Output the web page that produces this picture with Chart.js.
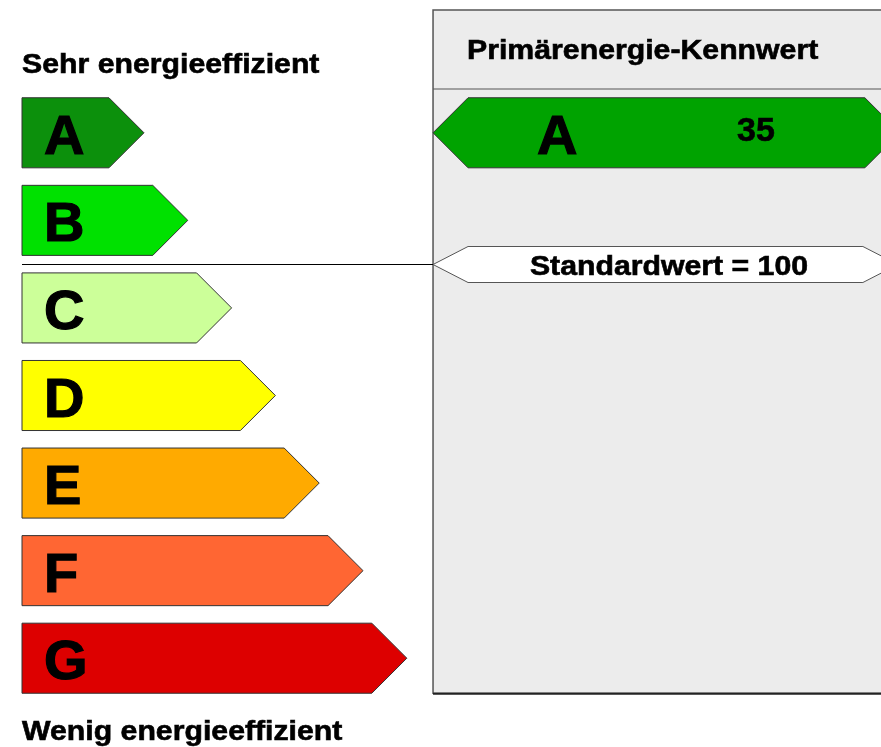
<!DOCTYPE html>
<html>
<head>
<meta charset="utf-8">
<script src="https://cdn.jsdelivr.net/npm/chart.js@4"></script>
<style>
  html, body { margin: 0; padding: 0; background: #fff; }
  #label { display: block; }
</style>
</head>
<body>
<canvas id="label" width="881" height="747"></canvas>
<script>
// Effizienzklassen und Pfeillaengen (relative Einheiten, x-Achse 0..100)
const klassen = ["A", "B", "C", "D", "E", "F", "G"];
const klassenLaenge = [14.2, 19.3, 24.4, 29.5, 34.6, 39.7, 44.8];
const klassenFarben = ["#0c900c", "#00e100", "#ccff99", "#ffff00", "#ffaa00", "#ff6633", "#dd0000"];

// Kennwert des Gebaeudes
const kennwertKlasse = "A";
const kennwert = 35;
const kennwertBereich = [47.85, 102.2];
const kennwertFarbe = "#00a300";

// Standardwert, liegt auf der Grenze zwischen B und C
const standardWert = 100;
const standardPos = 1.5;

const titelOben = "Sehr energieeffizient";
const titelUnten = "Wenig energieeffizient";
const panelTitel = "Primärenergie-Kennwert";

const FONT = "'Liberation Sans', Arial, sans-serif";
const STRETCH = 1.12;

function text(ctx, str, x, y, size, align, sx) {
  ctx.save();
  ctx.font = "bold " + size + "px " + FONT;
  ctx.fillStyle = "#000";
  ctx.strokeStyle = "#000";
  ctx.lineWidth = size > 40 ? 1.2 : 0.6;
  ctx.textBaseline = "alphabetic";
  ctx.textAlign = align || "left";
  ctx.translate(x, y);
  ctx.scale(sx || 1, 1);
  ctx.fillText(str, 0, 0);
  ctx.strokeText(str, 0, 0);
  ctx.restore();
}

// Pfeil nach rechts (Klassen) oder Sechseck (Kennwert / Standardwert)
function arrow(ctx, left, right, top, bottom, both, tip) {
  const mid = (top + bottom) / 2;
  const t = tip || (bottom - top) / 2;
  ctx.beginPath();
  if (both) {
    ctx.moveTo(left, mid);
    ctx.lineTo(left + t, top);
  } else {
    ctx.moveTo(left, top);
  }
  ctx.lineTo(right - t, top);
  ctx.lineTo(right, mid);
  ctx.lineTo(right - t, bottom);
  if (both) {
    ctx.lineTo(left + t, bottom);
  } else {
    ctx.lineTo(left, bottom);
  }
  ctx.closePath();
}

const labelPlugin = {
  id: "energieLabel",
  beforeDatasetsDraw(chart) {
    const { ctx, chartArea, scales } = chart;
    const px = scales.x.getPixelForValue(kennwertBereich[0]);
    const pr = scales.x.getPixelForValue(kennwertBereich[1]);
    const g = chart.getDatasetMeta(0).data[6].getProps(["y", "height"], true);
    const bottom = g.y + g.height / 2;
    const top = chartArea.top - 79;
    ctx.save();
    // Panel rechts
    ctx.fillStyle = "#ececec";
    ctx.fillRect(px, top, chart.width - px + 5, bottom - top);
    ctx.strokeStyle = "#555";
    ctx.lineWidth = 1.5;
    ctx.strokeRect(px, top, chart.width - px + 5, bottom - top);
    ctx.beginPath();
    ctx.moveTo(px, bottom + 0.5);
    ctx.lineTo(chart.width, bottom + 0.5);
    ctx.strokeStyle = "#222";
    ctx.lineWidth = 2;
    ctx.stroke();
    ctx.beginPath();
    ctx.moveTo(px, chartArea.top);
    ctx.lineTo(chart.width, chartArea.top);
    ctx.strokeStyle = "#555";
    ctx.lineWidth = 1;
    ctx.stroke();
    // Linie zum Standardwert
    const sy = Math.round(scales.y.getPixelForValue(standardPos)) + 0.5;
    ctx.beginPath();
    ctx.moveTo(chartArea.left, sy);
    ctx.lineTo(px, sy);
    ctx.strokeStyle = "#000";
    ctx.stroke();
    // Standardwert-Marke
    arrow(ctx, px, pr - 2, sy - 18, sy + 18, true, 35);
    ctx.fillStyle = "#fff";
    ctx.fill();
    ctx.strokeStyle = "#555";
    ctx.stroke();
    ctx.restore();
    text(ctx, panelTitel, px + 34, chartArea.top - 30, 27, "left", STRETCH);
    text(ctx, "Standardwert = " + standardWert, 669, sy + 10, 27, "center", STRETCH);
    text(ctx, titelOben, chartArea.left, chartArea.top - 16, 27, "left", STRETCH);
    text(ctx, titelUnten, chartArea.left, bottom + 47, 27, "left", STRETCH);
  },
  beforeDatasetDraw(chart, args) {
    const { ctx } = chart;
    const meta = args.meta;
    const both = args.index === 1;
    meta.data.forEach((bar, i) => {
      const val = chart.data.datasets[args.index].data[i];
      if (val === null) return;
      const p = bar.getProps(["x", "y", "base", "height"], true);
      const top = p.y - p.height / 2;
      const bottom = p.y + p.height / 2;
      ctx.save();
      arrow(ctx, p.base, p.x, top, bottom, both);
      ctx.fillStyle = both ? kennwertFarbe : klassenFarben[i];
      ctx.fill();
      ctx.strokeStyle = "#333";
      ctx.lineWidth = 1;
      ctx.stroke();
      ctx.restore();
      if (both) {
        text(ctx, kennwertKlasse, p.base + 104, p.y + 21, 56, "left");
        text(ctx, String(kennwert), p.base + 323, p.y + 8, 34, "center");
      } else {
        text(ctx, klassen[i], p.base + 22, p.y + 21, 56, "left");
      }
    });
    return false;
  }
};

new Chart(document.getElementById("label"), {
  type: "bar",
  data: {
    labels: klassen,
    datasets: [
      {
        label: "Klassen",
        data: klassenLaenge,
        backgroundColor: klassenFarben,
        grouped: false,
        barPercentage: 0.8,
        categoryPercentage: 1
      },
      {
        label: "Kennwert",
        data: klassen.map(k => (k === kennwertKlasse ? kennwertBereich : null)),
        backgroundColor: kennwertFarbe,
        grouped: false,
        barPercentage: 0.8,
        categoryPercentage: 1
      }
    ]
  },
  options: {
    indexAxis: "y",
    responsive: false,
    animation: false,
    layout: { padding: { left: 22, right: 0, top: 89, bottom: 45 } },
    scales: {
      x: { min: 0, max: 100, display: false },
      y: { display: false }
    },
    plugins: {
      legend: { display: false },
      tooltip: { enabled: false }
    }
  },
  plugins: [labelPlugin]
});
</script>
</body>
</html>
